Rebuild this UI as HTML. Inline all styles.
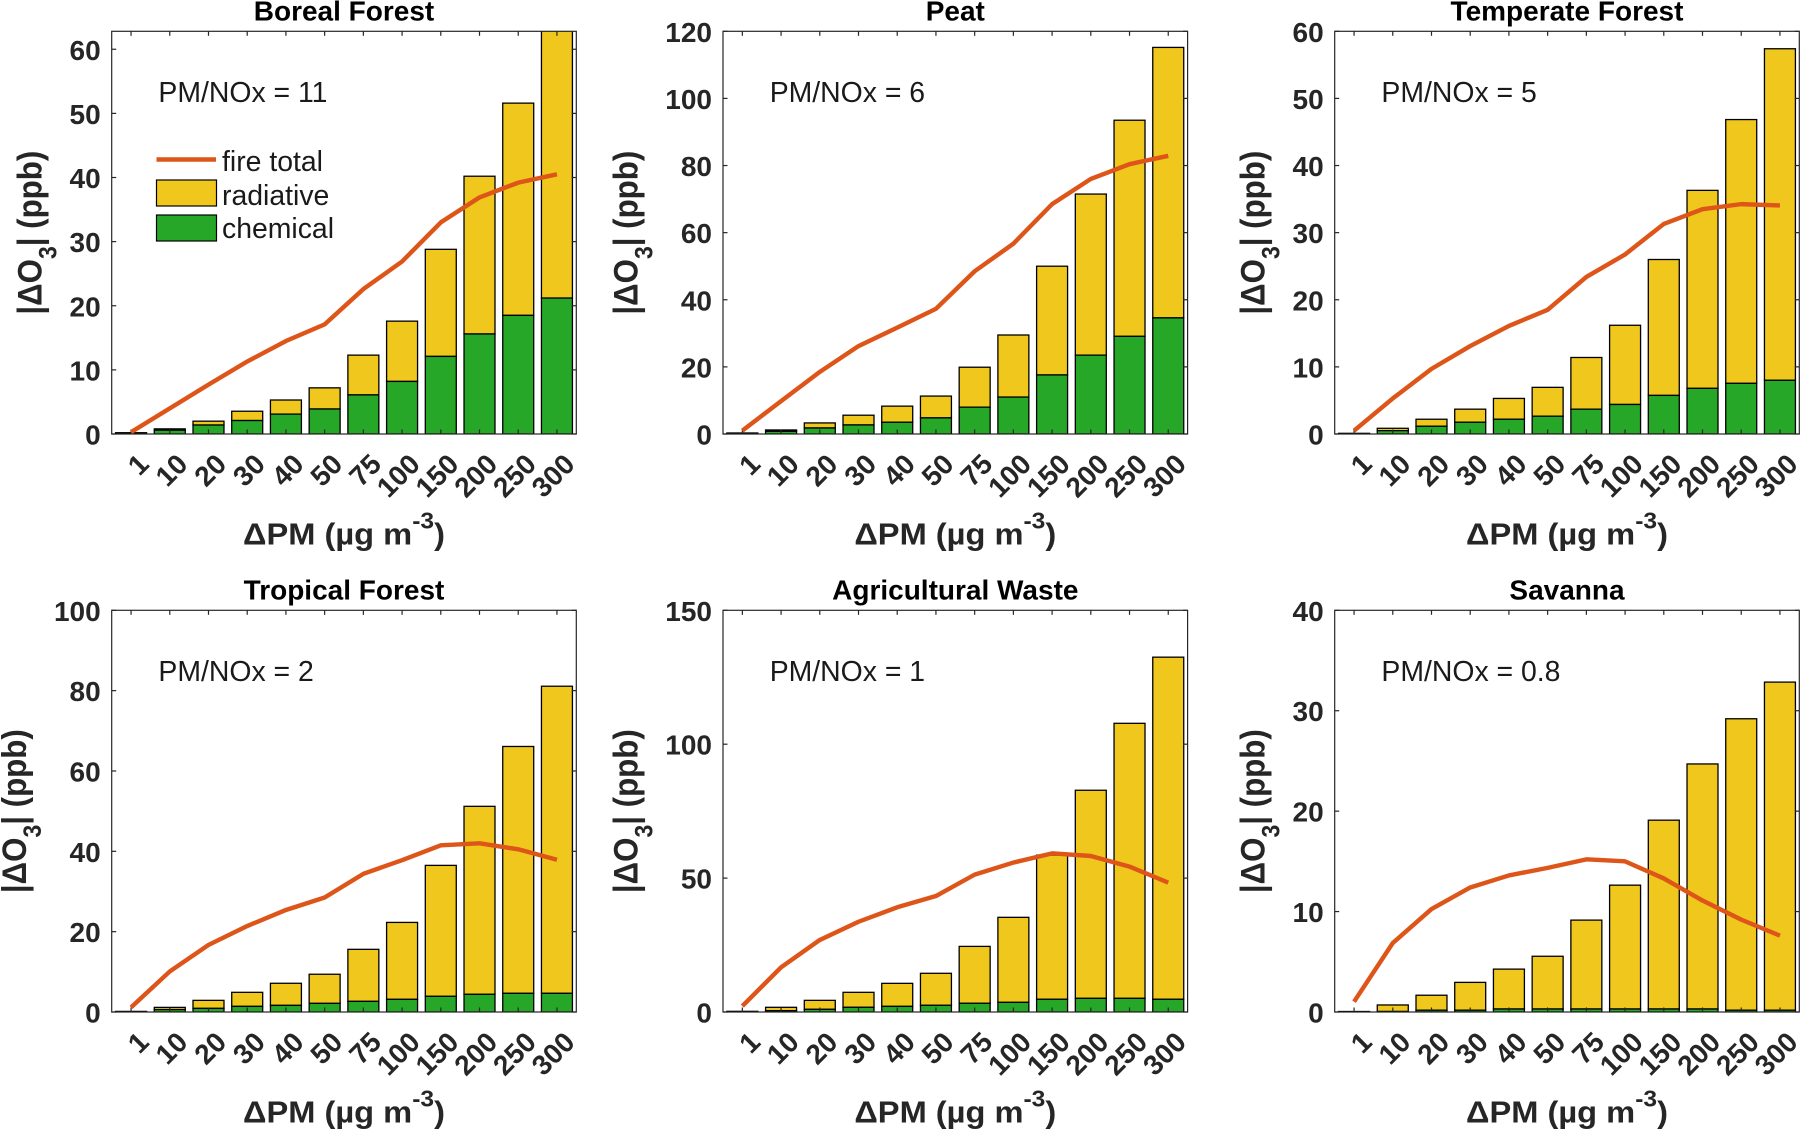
<!DOCTYPE html>
<html lang="en">
<head>
<meta charset="utf-8">
<title>Ozone change versus PM by fire type</title>
<style>
html,body{margin:0;padding:0;background:#fff;width:1800px;height:1130px;overflow:hidden}
svg{display:block;font-family:"Liberation Sans",Arial,sans-serif}
</style>
</head>
<body>
<svg id="chart" xmlns="http://www.w3.org/2000/svg" width="1800" height="1130" viewBox="0 0 1800 1130"></svg>
<script>
const categories = ['1','10','20','30','40','50','75','100','150','200','250','300'];

const borealChemical = [0.1,0.6,1.4,2.1,3.1,3.9,6.1,8.2,12.1,15.6,18.5,21.2];
const borealRadiative = [0.1,0.2,0.6,1.45,2.2,3.3,6.2,9.4,16.7,24.6,33.1,43.8];
const borealTotal = [0.3,4.0,7.7,11.3,14.5,17.1,22.6,26.9,33.0,36.9,39.2,40.5];
const borealTicks = [0,10,20,30,40,50,60];

const peatChemical = [0.1,0.8,1.8,2.7,3.5,4.8,8,11,17.6,23.5,29.1,34.6];
const peatRadiative = [0.2,0.4,1.5,2.9,4.8,6.5,11.9,18.5,32.4,48,64.4,80.6];
const peatTotal = [1,9.8,18.5,26.2,31.7,37.3,48.5,56.7,68.5,76,80.4,82.9];
const peatTicks = [0,20,40,60,80,100,120];

const temperateChemical = [0.05,0.5,1.15,1.75,2.2,2.65,3.7,4.4,5.75,6.8,7.55,8.0];
const temperateRadiative = [0.05,0.35,1.05,1.95,3.1,4.3,7.7,11.8,20.25,29.5,39.3,49.4];
const temperateTotal = [0.5,5.3,9.7,13.1,16.1,18.5,23.4,26.75,31.3,33.5,34.25,34.05];
const temperateTicks = [0,10,20,30,40,50,60];

const tropicalChemical = [0.05,0.6,0.9,1.4,1.65,2.15,2.65,3.15,3.9,4.4,4.65,4.65];
const tropicalRadiative = [0.1,0.55,2.0,3.5,5.5,7.25,12.95,19.15,32.6,46.8,61.45,76.45];
const tropicalTotal = [1.15,10.1,16.7,21.4,25.4,28.5,34.4,37.8,41.5,42.0,40.5,37.9];
const tropicalTicks = [0,20,40,60,80,100];

const agriculturalChemical = [0.05,0.5,1,1.75,2.1,2.5,3.25,3.6,4.75,5.1,5.1,4.75];
const agriculturalRadiative = [0.2,1.25,3.35,5.6,8.6,11.95,21.25,31.75,53.85,77.7,102.7,127.75];
const agriculturalTotal = [2.2,16.7,26.9,33.7,39.1,43.3,51.3,55.8,59.25,58.25,54.3,48.3];
const agriculturalTicks = [0,50,100,150];

const savannaChemical = [0.02,0.05,0.18,0.18,0.3,0.3,0.3,0.3,0.3,0.3,0.18,0.18];
const savannaRadiative = [0.03,0.65,1.49,2.77,3.97,5.25,8.85,12.33,18.8,24.4,29.02,32.67];
const savannaTotal = [1.03,6.87,10.25,12.4,13.6,14.35,15.2,15.0,13.3,11.1,9.2,7.6];
const savannaTicks = [0,10,20,30,40];

const SVGNS = 'http://www.w3.org/2000/svg';
const root = document.getElementById('chart');
const INK = '#262626';
const YELLOW = '#F0C71D';
const GREEN = '#27A727';
const ORANGE = '#DD5519';
const PANEL_W = 464.6;
const BAR_FRACTION = 0.8;
const TICK_LEN = 4.5;

function make(tag, parent, attrs) {
  const el = document.createElementNS(SVGNS, tag);
  for (const k in attrs) el.setAttribute(k, attrs[k]);
  parent.appendChild(el);
  return el;
}

function drawPanel(slug, title, ratio, left, top, bottom, yMax, ticks, chemical, radiative, total, clipId) {
  const step = PANEL_W / categories.length;
  const right = left + PANEL_W;
  const cx = left + PANEL_W / 2;
  const xScale = i => left + (i + 0.5) * step;
  const yScale = v => bottom - (v / yMax) * (bottom - top);
  const barW = step * BAR_FRACTION;

  const panel = make('g', root, {});
  
  

  const defs = make('defs', panel, {});
  const clip = make('clipPath', defs, { id: clipId });
  make('rect', clip, { x: left, y: top, width: PANEL_W, height: bottom - top });

  const bars = make('g', panel, { 'clip-path': 'url(#' + clipId + ')', stroke: '#000', 'stroke-width': 1.3 });
  
  
  categories.forEach((cat, i) => {
    const y0 = yScale(chemical[i]);
    const y1 = yScale(chemical[i] + radiative[i]);
    const rad = make('rect', bars, { x: xScale(i) - barW / 2, y: y1, width: barW, height: y0 - y1, fill: YELLOW });
    
    
    const chem = make('rect', bars, { x: xScale(i) - barW / 2, y: y0, width: barW, height: bottom - y0, fill: GREEN });
    
    
  });

  const axes = make('g', panel, { stroke: INK, 'stroke-width': 1.2, fill: 'none' });
  
  
  const box = make('rect', axes, { x: left, y: top, width: PANEL_W, height: bottom - top });
  
  

  categories.forEach((cat, i) => {
    const x = xScale(i);
    const tb = make('line', axes, { x1: x, x2: x, y1: bottom, y2: bottom - TICK_LEN });
    
    
    const tt = make('line', axes, { x1: x, x2: x, y1: top, y2: top + TICK_LEN });
    
    
    const tx = x + 12.8;
    const ty = bottom + 25.2;
    const lab = make('text', panel, {
      x: tx, y: ty, transform: 'rotate(-45 ' + tx + ' ' + ty + ')',
      'text-anchor': 'end', 'dominant-baseline': 'central',
      'font-size': 28, 'font-weight': 700, fill: INK
    });
    lab.textContent = cat;
    
    
  });

  ticks.forEach(t => {
    const y = yScale(t);
    const tl = make('line', axes, { x1: left, x2: left + TICK_LEN, y1: y, y2: y });
    
    
    const tr = make('line', axes, { x1: right, x2: right - TICK_LEN, y1: y, y2: y });
    
    
    const lab = make('text', panel, {
      x: left - 11, y: y + 10.5, 'text-anchor': 'end',
      'font-size': 28, 'font-weight': 700, fill: INK
    });
    lab.textContent = String(t);
    
    
  });

  const pts = total.map((v, i) => xScale(i) + ',' + yScale(v)).join(' ');
  const line = make('polyline', panel, { points: pts, fill: 'none', stroke: ORANGE, 'stroke-width': 4.4, 'stroke-linejoin': 'round' });
  
  

  const ttl = make('text', panel, { x: cx, y: top - 11, 'text-anchor': 'middle', 'font-size': 28, 'font-weight': 700, fill: '#000' });
  ttl.textContent = title;
  
  

  const note = make('text', panel, { x: left + 46.7, y: top + 70.5, 'font-size': 28.4, fill: '#1a1a1a' });
  note.textContent = 'PM/NOx = ' + ratio;
  
  

  const xlab = make('text', panel, { transform: 'translate(' + cx + ' ' + (bottom + 110.3) + ') scale(1.07 1)', 'text-anchor': 'middle', 'font-size': 30.5, 'font-weight': 700, fill: INK });
  
  
  xlab.appendChild(document.createTextNode('\u0394PM (\u00B5g m'));
  const sup = make('tspan', xlab, { dy: -16, 'font-size': 23 });
  sup.textContent = '-3';
  const close = make('tspan', xlab, { dy: 16 });
  close.textContent = ')';

  const digits = String(ticks[ticks.length - 1]).length;
  const yx = left - (digits >= 3 ? 85.5 : 70);
  const yy = (top + bottom) / 2;
  const ylab = make('text', panel, { transform: 'translate(' + yx + ' ' + yy + ') rotate(-90) scale(0.92 1)', 'text-anchor': 'middle', 'font-size': 34, 'font-weight': 700, fill: INK });
  
  
  ylab.appendChild(document.createTextNode('|\u0394O'));
  const sub = make('tspan', ylab, { dy: 15, 'font-size': 25 });
  sub.textContent = '3';
  const rest = make('tspan', ylab, { dy: -15 });
  rest.textContent = '| (ppb)';
}

const COL1 = 111.7, COL2 = 723, COL3 = 1334.7;
const ROW1_TOP = 31.3, ROW1_BOTTOM = 434, ROW2_TOP = 610.3, ROW2_BOTTOM = 1012;

drawPanel('boreal-forest', 'Boreal Forest', '11', COL1, ROW1_TOP, ROW1_BOTTOM, 62.8, borealTicks, borealChemical, borealRadiative, borealTotal, 'clip-a');
drawPanel('peat', 'Peat', '6', COL2, ROW1_TOP, ROW1_BOTTOM, 120, peatTicks, peatChemical, peatRadiative, peatTotal, 'clip-b');
drawPanel('temperate-forest', 'Temperate Forest', '5', COL3, ROW1_TOP, ROW1_BOTTOM, 60, temperateTicks, temperateChemical, temperateRadiative, temperateTotal, 'clip-c');
drawPanel('tropical-forest', 'Tropical Forest', '2', COL1, ROW2_TOP, ROW2_BOTTOM, 100, tropicalTicks, tropicalChemical, tropicalRadiative, tropicalTotal, 'clip-d');
drawPanel('agricultural-waste', 'Agricultural Waste', '1', COL2, ROW2_TOP, ROW2_BOTTOM, 150, agriculturalTicks, agriculturalChemical, agriculturalRadiative, agriculturalTotal, 'clip-e');
drawPanel('savanna', 'Savanna', '0.8', COL3, ROW2_TOP, ROW2_BOTTOM, 40, savannaTicks, savannaChemical, savannaRadiative, savannaTotal, 'clip-f');

const legend = make('g', root, {});



const legendLine = make('line', legend, { x1: 156.5, x2: 216, y1: 159.5, y2: 159.5, stroke: ORANGE, 'stroke-width': 4.4 });



const legendRad = make('rect', legend, { x: 156.5, y: 180, width: 60, height: 26, fill: YELLOW, stroke: '#000', 'stroke-width': 1.2 });



const legendChem = make('rect', legend, { x: 156.5, y: 215, width: 60, height: 26, fill: GREEN, stroke: '#000', 'stroke-width': 1.2 });



const legendText1 = make('text', legend, { x: 222, y: 171, 'font-size': 28.4, fill: '#1a1a1a' });
legendText1.textContent = 'fire total';



const legendText2 = make('text', legend, { x: 222, y: 205, 'font-size': 28.4, fill: '#1a1a1a' });
legendText2.textContent = 'radiative';



const legendText3 = make('text', legend, { x: 222, y: 238, 'font-size': 28.4, fill: '#1a1a1a' });
legendText3.textContent = 'chemical';


</script>
</body>
</html>
